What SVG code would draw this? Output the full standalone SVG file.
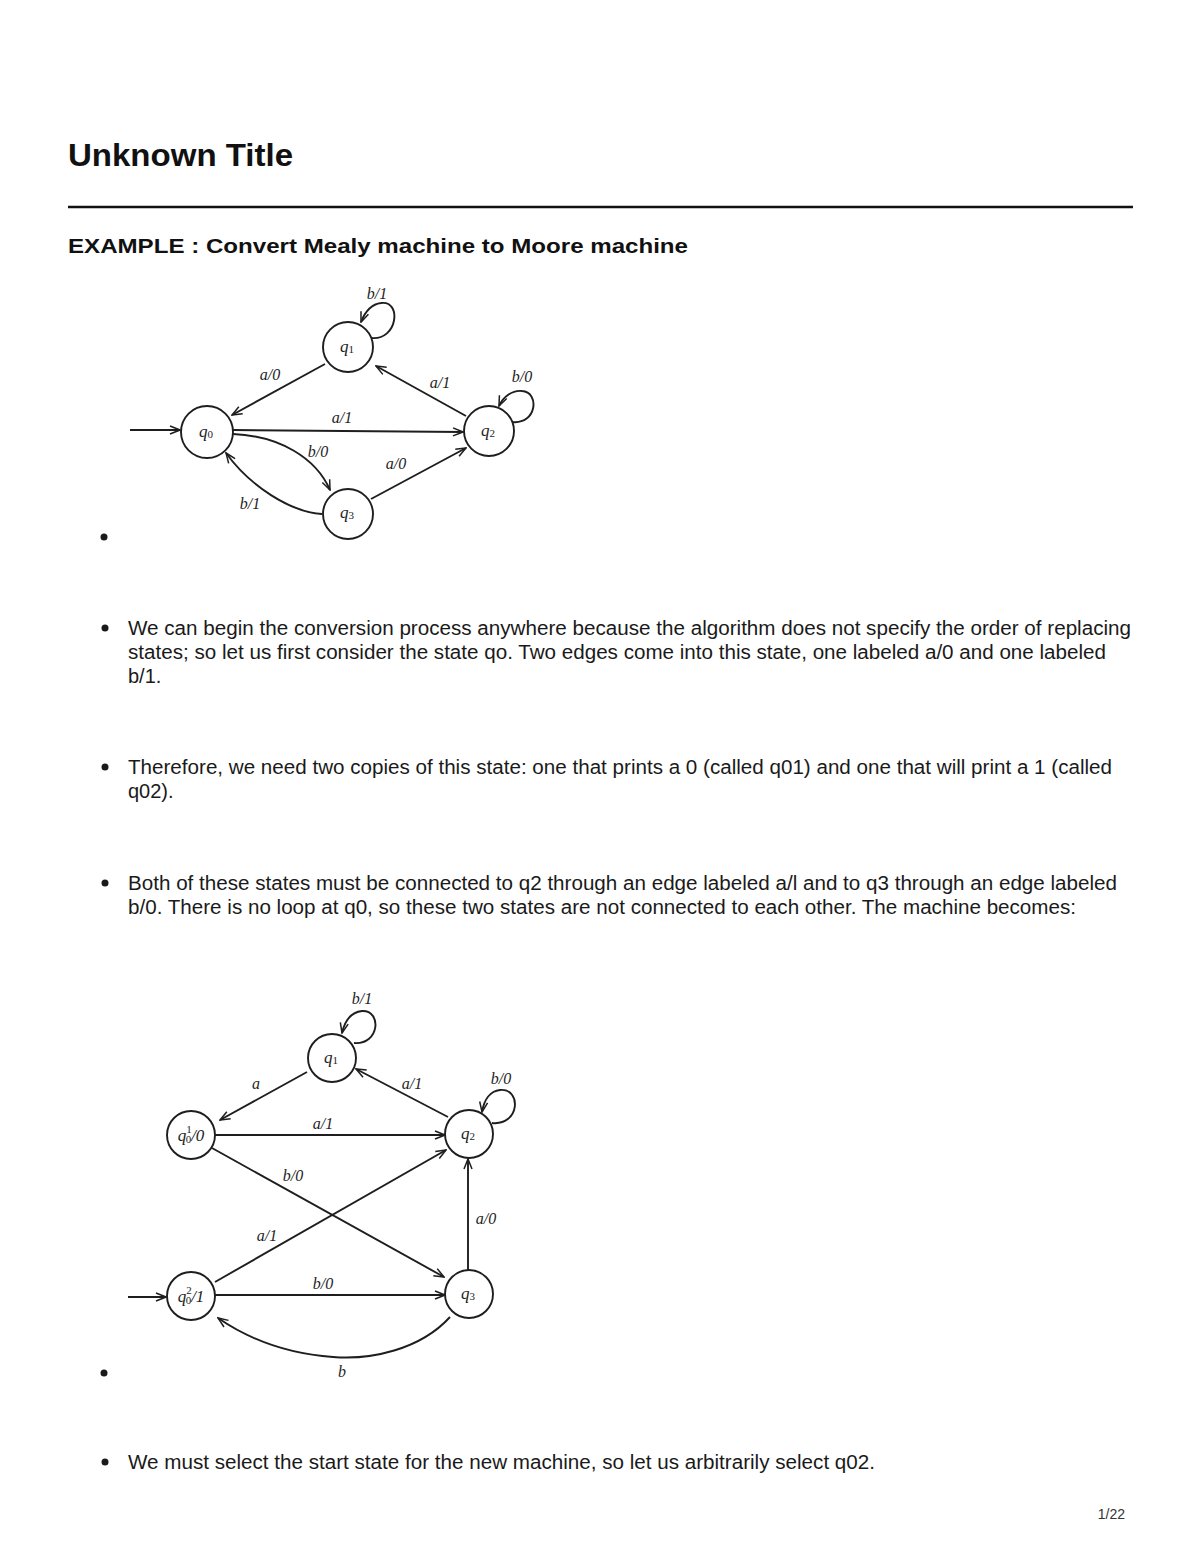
<svg xmlns="http://www.w3.org/2000/svg" width="1200" height="1553" viewBox="0 0 1200 1553">
<style>
.body{font-family:"Liberation Sans",Arial,sans-serif;font-size:20px;fill:#1a1a1a}
.st{fill:#fff;stroke:#1e1e1e;stroke-width:1.9}
.edge{fill:none;stroke:#1e1e1e;stroke-width:1.9;marker-end:url(#arr)}
.lab{font-family:"Liberation Serif","Times New Roman",serif;font-style:italic;font-size:16px;fill:#1e1e1e;text-anchor:middle;dominant-baseline:central}
.sl{font-family:"Liberation Serif","Times New Roman",serif;font-style:italic;font-size:17px;fill:#1e1e1e;text-anchor:middle;dominant-baseline:central}
.sub{font-size:11px;font-style:normal}
.bul{fill:#1a1a1a}
</style>
<defs>
<marker id="arr" viewBox="0 0 12 10" refX="11" refY="5" markerWidth="12" markerHeight="10" markerUnits="userSpaceOnUse" orient="auto">
<path d="M1,1 L11,5 L1,9" fill="none" stroke="#1e1e1e" stroke-width="1.5"/>
</marker>
</defs>
<rect width="1200" height="1553" fill="#fff"/>

<text x="68" y="166" font-family="Liberation Sans,Arial,sans-serif" font-size="32" font-weight="bold" fill="#111" textLength="225" lengthAdjust="spacingAndGlyphs">Unknown Title</text>
<line x1="68" y1="207" x2="1133" y2="207" stroke="#111" stroke-width="2.5"/>
<text x="68" y="253" font-family="Liberation Sans,Arial,sans-serif" font-size="21" font-weight="bold" fill="#111" textLength="620" lengthAdjust="spacingAndGlyphs">EXAMPLE : Convert Mealy machine to Moore machine</text>

<!-- Diagram 1 -->
<g id="diagram1-connectors">
<line class="edge" x1="130" y1="430" x2="180" y2="430"/>
<line class="edge" x1="325" y1="364" x2="232" y2="415"/>
<line class="edge" x1="466" y1="416" x2="376" y2="366"/>
<line class="edge" x1="233" y1="430" x2="463" y2="432"/>
<path class="edge" d="M233,434 C280,436 316,458 330,490"/>
<path class="edge" d="M322,514 C290,512 250,486 226,453"/>
<line class="edge" x1="371" y1="499" x2="466" y2="448"/>
<path class="edge" d="M371,338 C398,341 402,300 381,303 C372,304 365,312 361,322"/>
<path class="edge" d="M512,422 C537,425 540,392 522,391 C512,390 503,397 499,406"/>
</g>
<g id="d1-q0"><circle class="st" cx="207" cy="432" r="26"/><text class="sl" x="206" y="431">q<tspan class="sub" dy="3">0</tspan></text></g>
<g id="d1-q1"><circle class="st" cx="348" cy="347" r="25"/><text class="sl" x="347" y="346">q<tspan class="sub" dy="3">1</tspan></text></g>
<g id="d1-q2"><circle class="st" cx="489" cy="431" r="25"/><text class="sl" x="488" y="430">q<tspan class="sub" dy="3">2</tspan></text></g>
<g id="d1-q3"><circle class="st" cx="348" cy="514" r="25"/><text class="sl" x="347" y="512">q<tspan class="sub" dy="3">3</tspan></text></g>
<g id="d1-labels">
<text class="lab" x="377" y="293">b/1</text>
<text class="lab" x="270" y="374">a/0</text>
<text class="lab" x="440" y="382">a/1</text>
<text class="lab" x="522" y="376">b/0</text>
<text class="lab" x="342" y="417">a/1</text>
<text class="lab" x="318" y="451">b/0</text>
<text class="lab" x="396" y="463">a/0</text>
<text class="lab" x="250" y="503">b/1</text>
</g>
<circle class="bul" cx="104" cy="537" r="3.5"/>

<!-- Text blocks -->
<circle class="bul" cx="105" cy="628" r="3.5"/>
<text class="body" x="128" y="635" textLength="1003" lengthAdjust="spacingAndGlyphs">We can begin the conversion process anywhere because the algorithm does not specify the order of replacing</text>
<text class="body" x="128" y="659" textLength="978" lengthAdjust="spacingAndGlyphs">states; so let us first consider the state qo. Two edges come into this state, one labeled a/0 and one labeled</text>
<text class="body" x="128" y="683">b/1.</text>

<circle class="bul" cx="105" cy="767" r="3.5"/>
<text class="body" x="128" y="774" textLength="984" lengthAdjust="spacingAndGlyphs">Therefore, we need two copies of this state: one that prints a 0 (called q01) and one that will print a 1 (called</text>
<text class="body" x="128" y="798">q02).</text>

<circle class="bul" cx="105" cy="883" r="3.5"/>
<text class="body" x="128" y="890" textLength="989" lengthAdjust="spacingAndGlyphs">Both of these states must be connected to q2 through an edge labeled a/l and to q3 through an edge labeled</text>
<text class="body" x="128" y="914" textLength="948" lengthAdjust="spacingAndGlyphs">b/0. There is no loop at q0, so these two states are not connected to each other. The machine becomes:</text>

<!-- Diagram 2 -->
<g id="diagram2-connectors">
<line class="edge" x1="128" y1="1297" x2="166" y2="1297"/>
<line class="edge" x1="307" y1="1072" x2="220" y2="1120"/>
<line class="edge" x1="448" y1="1117" x2="356" y2="1069"/>
<line class="edge" x1="215" y1="1135" x2="445" y2="1135"/>
<line class="edge" x1="212" y1="1148" x2="444" y2="1277"/>
<line class="edge" x1="215" y1="1282" x2="446" y2="1150"/>
<line class="edge" x1="215" y1="1295" x2="445" y2="1295"/>
<line class="edge" x1="468" y1="1270" x2="468" y2="1159"/>
<path class="edge" d="M450,1317 C420,1350 370,1360 333,1357 C290,1354 250,1340 218,1318"/>
<path class="edge" d="M354,1043 C380,1045 382,1010 362,1011 C352,1012 345,1020 342,1033"/>
<path class="edge" d="M492,1123 C520,1126 522,1088 500,1090 C490,1091 484,1100 482,1112"/>
</g>
<g id="d2-q1"><circle class="st" cx="332" cy="1058" r="24"/><text class="sl" x="331" y="1057">q<tspan class="sub" dy="3">1</tspan></text></g>
<g id="d2-q01"><circle class="st" cx="191" cy="1135" r="24"/><text class="sl" x="191" y="1135">q<tspan class="sub" dy="-6">1</tspan><tspan class="sub" dx="-6" dy="10">0</tspan><tspan dy="-4">/0</tspan></text></g>
<g id="d2-q2"><circle class="st" cx="469" cy="1134" r="24"/><text class="sl" x="468" y="1133">q<tspan class="sub" dy="3">2</tspan></text></g>
<g id="d2-q02"><circle class="st" cx="191" cy="1296" r="24"/><text class="sl" x="191" y="1296">q<tspan class="sub" dy="-6">2</tspan><tspan class="sub" dx="-6" dy="10">0</tspan><tspan dy="-4">/1</tspan></text></g>
<g id="d2-q3"><circle class="st" cx="469" cy="1294" r="24"/><text class="sl" x="468" y="1293">q<tspan class="sub" dy="3">3</tspan></text></g>
<g id="d2-labels">
<text class="lab" x="362" y="998">b/1</text>
<text class="lab" x="256" y="1083">a</text>
<text class="lab" x="412" y="1083">a/1</text>
<text class="lab" x="501" y="1078">b/0</text>
<text class="lab" x="323" y="1123">a/1</text>
<text class="lab" x="293" y="1175">b/0</text>
<text class="lab" x="267" y="1235">a/1</text>
<text class="lab" x="486" y="1218">a/0</text>
<text class="lab" x="323" y="1283">b/0</text>
<text class="lab" x="342" y="1371">b</text>
</g>
<circle class="bul" cx="104" cy="1373" r="3.5"/>

<circle class="bul" cx="105" cy="1462" r="3.5"/>
<text class="body" x="128" y="1469" textLength="747" lengthAdjust="spacingAndGlyphs">We must select the start state for the new machine, so let us arbitrarily select q02.</text>

<text x="1125" y="1519" font-family="Liberation Sans,Arial,sans-serif" font-size="14" fill="#333" text-anchor="end">1/22</text>
</svg>
